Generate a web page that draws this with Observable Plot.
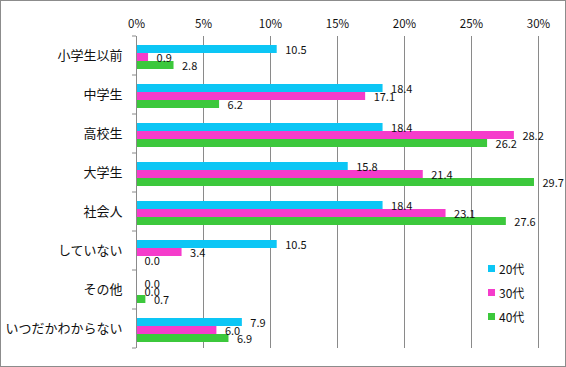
<!DOCTYPE html>
<html>
<head>
<meta charset="utf-8">
<script src="https://cdn.jsdelivr.net/npm/d3@7"></script>
<script src="https://cdn.jsdelivr.net/npm/@observablehq/plot@0.6"></script>
<style>
  body { margin: 0; background: #fff; }
  #wrap { position: relative; width: 564px; height: 365px; border: 1px solid #8c8c8c; background: #fff; font-family: "Noto Sans CJK JP", "Noto Sans", sans-serif; }
  #legend { position: absolute; left: 487px; top: 255px; font-size: 12px; color: #111; }
  #legend .row { display: flex; align-items: center; height: 24px; }
  #legend .sw { width: 7px; height: 7px; margin-right: 4px; }
</style>
</head>
<body>
<div id="wrap"><div id="legend"></div></div>
<script>
const categories = ["小学生以前", "中学生", "高校生", "大学生", "社会人", "していない", "その他", "いつだかわからない"];
const series = ["20代", "30代", "40代"];
const values20 = [10.5, 18.4, 18.4, 15.8, 18.4, 10.5, 0.0, 7.9];
const values30 = [0.9, 17.1, 28.2, 21.4, 23.1, 3.4, 0.0, 6.0];
const values40 = [2.8, 6.2, 26.2, 29.7, 27.6, 0.0, 0.7, 6.9];
const xTicks = [0, 5, 10, 15, 20, 25, 30];
const colors = ["#0cc6f5", "#f53ccb", "#3cc83c"];

const seriesValues = [values20, values30, values40];
const data = [];
categories.forEach((c, i) => {
  series.forEach((s, j) => data.push({category: c, series: s, value: seriesValues[j][i]}));
});

const font = '"Noto Sans CJK JP", "Noto Sans", sans-serif';
const W = 564, H = 365, mL = 135, mR = 27, mT = 32, mB = 16;

const chart = Plot.plot({
  width: W,
  height: H,
  marginLeft: mL,
  marginRight: mR,
  marginTop: mT,
  marginBottom: mB,
  style: {fontFamily: font, fontSize: "11px", color: "#111", background: "transparent"},
  x: {domain: [0, 30], axis: null},
  y: {domain: series, paddingInner: 0, paddingOuter: 0.8, align: 0.58, axis: null},
  fy: {domain: categories, padding: 0, axis: null},
  color: {domain: series, range: colors},
  marks: [
    Plot.gridX(xTicks, {stroke: "#8a8a8a", strokeOpacity: 1}),
    Plot.axisX(xTicks, {anchor: "top", tickSize: 0, tickPadding: 9, tickFormat: d => d + "%", label: null, fontSize: 11.5}),
    Plot.axisFy({anchor: "left", tickSize: 0, tickPadding: 14, label: null, fontSize: 13}),
    Plot.barX(data, {y: "series", fy: "category", x: "value", fill: "series", insetTop: 0, insetBottom: 0}),
    Plot.ruleX([0], {stroke: "#8a8a8a"}),
    Plot.text(data, {y: "series", fy: "category", x: "value", text: d => d.value.toFixed(1), textAnchor: "start", dx: 8, dy: 1, fontSize: 11, fill: "#111"})
  ]
});

document.getElementById("wrap").prepend(chart);

// boundary ticks on the category axis, from the fy scale
const fy = chart.scale("fy");
const svg = d3.select(chart.tagName.toLowerCase() === "svg" ? chart : chart.querySelector("svg"));
const bounds = categories.map(c => fy.apply(c));
bounds.push(fy.apply(categories[categories.length - 1]) + fy.bandwidth);
svg.append("g").selectAll("line").data(bounds).join("line")
  .attr("x1", mL - 4).attr("x2", mL)
  .attr("y1", d => d).attr("y2", d => d)
  .attr("stroke", "#8a8a8a");

// legend
const legend = d3.select("#legend");
series.forEach((s, j) => {
  const row = legend.append("div").attr("class", "row");
  row.append("div").attr("class", "sw").style("background", colors[j]);
  row.append("span").text(s);
});
</script>
</body>
</html>
